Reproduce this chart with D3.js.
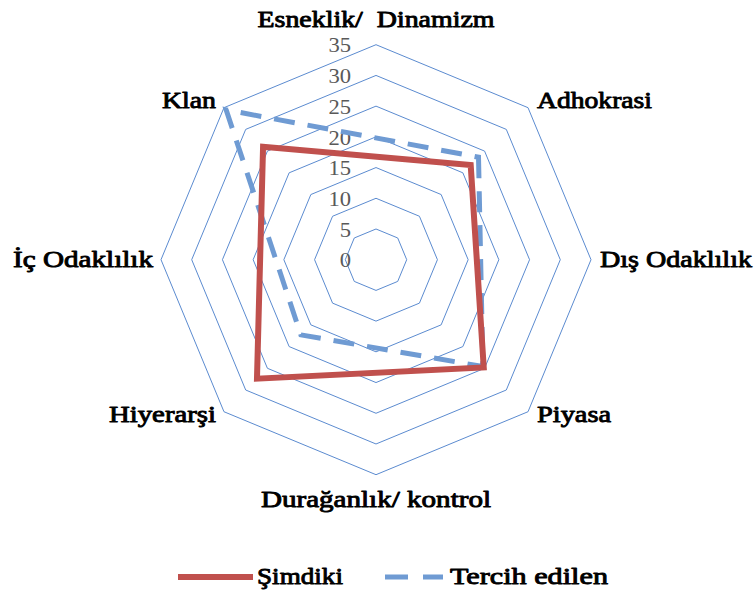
<!DOCTYPE html>
<html>
<head>
<meta charset="utf-8">
<script src="https://cdn.jsdelivr.net/npm/d3@7"></script>
<style>
  html, body { margin: 0; padding: 0; background: #fff; }
  svg { display: block; }
</style>
</head>
<body>
<svg id="chart" width="755" height="596"></svg>
<script>
// ---- data ----
const categories = ["Esneklik/  Dinamizm", "Adhokrasi", "Dış Odaklılık", "Piyasa",
                    "Durağanlık/ kontrol", "Hiyerarşi", "İç Odaklılık", "Klan"];
const seriesNames = ["Şimdiki", "Tercih edilen"];
// blank (null) on the dimension axes; lines connect the defined points
const simdiki = [null, 21.8, null, 24.8, null, 27.4, null, 26.0];
const tercihEdilen = [null, 23.6, null, 24.6, null, 17.3, null, 34.5];
const tickValues = [0, 5, 10, 15, 20, 25, 30, 35];

// ---- layout ----
const svg = d3.select("#chart");
const cx = 376, cy = 259.7, R = 215;
const maxV = 35;
const n = categories.length;
const serifFont = "'Liberation Serif', 'Times New Roman', Times, serif";
// rendered widths of the category labels (layout only)
const labelWidths = [237, 115, 152, 74, 230, 107, 140, 54];

const r = d3.scaleLinear().domain([0, maxV]).range([0, R]);
const angle = d3.scalePoint().domain(d3.range(n)).range([0, 2 * Math.PI * (n - 1) / n]);

const g = svg.append("g").attr("transform", `translate(${cx},${cy})`);

// grid rings
const ringLine = d3.lineRadial()
  .angle((d, i) => angle(i))
  .radius(d => r(d))
  .curve(d3.curveLinearClosed);

tickValues.filter(v => v > 0).forEach(v => {
  g.append("path")
    .attr("d", ringLine(d3.range(n).map(() => v)))
    .attr("fill", "none")
    .attr("stroke", "#5b8bd0")
    .attr("stroke-width", 1);
});

// tick labels
g.selectAll("text.tick")
  .data(tickValues)
  .join("text")
  .attr("class", "tick")
  .attr("x", -25)
  .attr("y", d => -r(d))
  .attr("dy", "0.35em")
  .attr("text-anchor", "end")
  .attr("font-family", serifFont)
  .attr("font-size", 22)
  .attr("fill", "#595959")
  .each(function (d) {
    const t = d3.select(this).text(d);
    t.attr("textLength", String(d).length * 11.3).attr("lengthAdjust", "spacingAndGlyphs");
  });

// series
const seriesLine = d3.lineRadial()
  .angle(d => angle(d.i))
  .radius(d => r(d.v))
  .curve(d3.curveLinearClosed);

function pts(arr) {
  return arr.map((v, i) => ({ v, i })).filter(d => d.v !== null);
}

g.append("path")
  .attr("d", seriesLine(pts(tercihEdilen)))
  .attr("fill", "none")
  .attr("stroke", "#6f9bd3")
  .attr("stroke-width", 5)
  .attr("stroke-dasharray", "21,13")
  .attr("stroke-linejoin", "miter");

g.append("path")
  .attr("d", seriesLine(pts(simdiki)))
  .attr("fill", "none")
  .attr("stroke", "#c0504d")
  .attr("stroke-width", 6)
  .attr("stroke-linejoin", "miter");

// bold-looking serif text (regular face thickened with a stroke)
function boldSerif(sel, size) {
  return sel.attr("font-family", serifFont)
    .attr("font-weight", "normal")
    .attr("font-size", size)
    .attr("fill", "#000")
    .attr("stroke", "#000")
    .attr("stroke-width", 0.9)
    .attr("stroke-linejoin", "round");
}

// category labels
categories.forEach((c, i) => {
  const a = angle(i);
  const s = Math.sin(a), co = -Math.cos(a);
  const vx = r(maxV) * s, vy = r(maxV) * co;
  let anchor = "middle", x = vx, y = vy;
  if (s > 0.1) { anchor = "start"; x = vx + 9; }
  else if (s < -0.1) { anchor = "end"; x = vx - 8; }
  if (Math.abs(s) < 0.1) {
    y = co < 0 ? vy - 17.7 : vy + 32;
  } else if (Math.abs(co) < 0.1) {
    y = vy + 7;
  } else if (co < 0) {
    y = vy + 0.5;
  } else {
    y = vy + 10;
  }
  g.append("text")
    .attr("x", x)
    .attr("y", y)
    .attr("text-anchor", anchor)
    .call(boldSerif, 23.5)
    .attr("xml:space", "preserve")
    .style("white-space", "pre")
    .attr("textLength", labelWidths[i])
    .attr("lengthAdjust", "spacingAndGlyphs")
    .text(c);
});

// legend
const lg = svg.append("g");
lg.append("line")
  .attr("x1", 178).attr("x2", 253).attr("y1", 577).attr("y2", 577)
  .attr("stroke", "#c0504d").attr("stroke-width", 6);
lg.append("text")
  .attr("x", 257).attr("y", 584)
  .call(boldSerif, 24)
  .attr("textLength", 86).attr("lengthAdjust", "spacingAndGlyphs")
  .text(seriesNames[0]);
lg.append("line")
  .attr("x1", 385).attr("x2", 443).attr("y1", 577).attr("y2", 577)
  .attr("stroke", "#6f9bd3").attr("stroke-width", 5)
  .attr("stroke-dasharray", "23,15");
lg.append("text")
  .attr("x", 450).attr("y", 584)
  .call(boldSerif, 24)
  .attr("textLength", 158).attr("lengthAdjust", "spacingAndGlyphs")
  .text(seriesNames[1]);
</script>
</body>
</html>
